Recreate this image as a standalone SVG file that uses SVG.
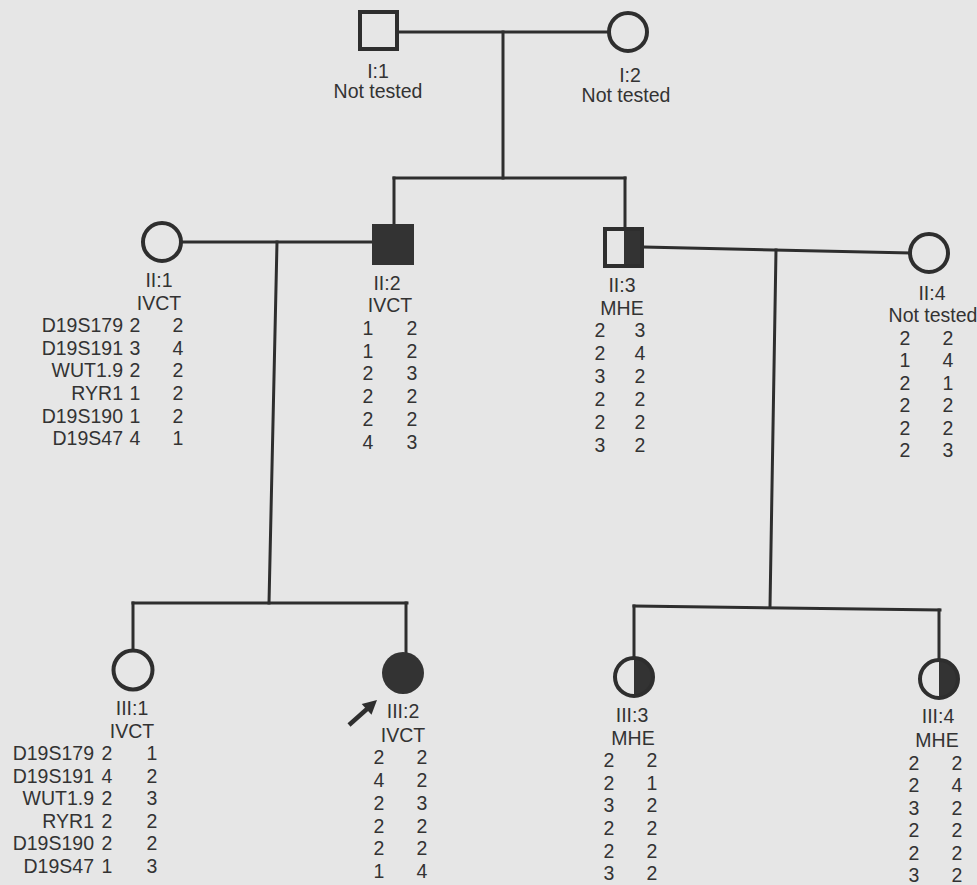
<svg xmlns="http://www.w3.org/2000/svg" width="977" height="885" viewBox="0 0 977 885">
<defs>
<style>
.ln{stroke:#2e2e2e;stroke-width:3;fill:none;stroke-linecap:square}
.sym{stroke:#2e2e2e;stroke-width:4;fill:none}
text{font-family:"Liberation Sans",Arial,sans-serif;font-size:19.5px;fill:#333}
.m{text-anchor:middle}
.e{text-anchor:end}
</style>
</defs>
<rect width="977" height="885" fill="#e6e6e6"/>
<g id="connectors">
<line class="ln" x1="398" y1="32" x2="609" y2="32"/>
<line class="ln" x1="503" y1="32" x2="503" y2="178"/>
<line class="ln" x1="394" y1="178" x2="625" y2="178"/>
<line class="ln" x1="394" y1="178" x2="394" y2="224"/>
<line class="ln" x1="625" y1="178" x2="625" y2="227"/>
<line class="ln" x1="181" y1="242" x2="372" y2="242"/>
<line class="ln" x1="277" y1="242" x2="269" y2="603"/>
<line class="ln" x1="133" y1="603" x2="407" y2="603"/>
<line class="ln" x1="133" y1="603" x2="133" y2="650"/>
<line class="ln" x1="406" y1="603" x2="406" y2="653"/>
<line class="ln" x1="644" y1="247" x2="910" y2="253"/>
<line class="ln" x1="776" y1="250" x2="770" y2="607"/>
<line class="ln" x1="634" y1="606" x2="940" y2="610"/>
<line class="ln" x1="634" y1="606" x2="634" y2="657"/>
<line class="ln" x1="939" y1="610" x2="939" y2="659"/>
</g>
<g id="I1">
<rect class="sym" x="360" y="12" width="37" height="37"/>
<text class="m" x="378" y="78">I:1</text>
<text class="m" x="378" y="98">Not tested</text>
</g>
<g id="I2">
<circle class="sym" cx="628" cy="32" r="19"/>
<text class="m" x="630" y="82">I:2</text>
<text class="m" x="626" y="102">Not tested</text>
</g>
<g id="II1">
<circle class="sym" cx="162" cy="242" r="19"/>
<text class="m" x="159" y="287">II:1</text>
<text class="m" x="159" y="310">IVCT</text>
<text class="e" x="123" y="332">D19S179</text><text class="m" x="135" y="332">2</text><text class="m" x="178" y="332">2</text>
<text class="e" x="123" y="355">D19S191</text><text class="m" x="135" y="355">3</text><text class="m" x="178" y="355">4</text>
<text class="e" x="123" y="377">WUT1.9</text><text class="m" x="135" y="377">2</text><text class="m" x="178" y="377">2</text>
<text class="e" x="123" y="400">RYR1</text><text class="m" x="135" y="400">1</text><text class="m" x="178" y="400">2</text>
<text class="e" x="123" y="423">D19S190</text><text class="m" x="135" y="423">1</text><text class="m" x="178" y="423">2</text>
<text class="e" x="123" y="445">D19S47</text><text class="m" x="135" y="445">4</text><text class="m" x="178" y="445">1</text>
</g>
<g id="II2">
<rect x="372" y="224" width="42" height="41" fill="#333"/>
<text class="m" x="387" y="290">II:2</text>
<text class="m" x="390" y="312">IVCT</text>
<text class="m" x="368" y="335">1</text><text class="m" x="412" y="335">2</text>
<text class="m" x="368" y="358">1</text><text class="m" x="412" y="358">2</text>
<text class="m" x="368" y="380">2</text><text class="m" x="412" y="380">3</text>
<text class="m" x="368" y="403">2</text><text class="m" x="412" y="403">2</text>
<text class="m" x="368" y="426">2</text><text class="m" x="412" y="426">2</text>
<text class="m" x="368" y="449">4</text><text class="m" x="412" y="449">3</text>
</g>
<g id="II3">
<rect x="624" y="227" width="20" height="41" fill="#333"/>
<rect class="sym" x="605" y="229" width="37" height="37"/>
<text class="m" x="622" y="292">II:3</text>
<text class="m" x="622" y="315">MHE</text>
<text class="m" x="600" y="337">2</text><text class="m" x="640" y="337">3</text>
<text class="m" x="600" y="360">2</text><text class="m" x="640" y="360">4</text>
<text class="m" x="600" y="383">3</text><text class="m" x="640" y="383">2</text>
<text class="m" x="600" y="406">2</text><text class="m" x="640" y="406">2</text>
<text class="m" x="600" y="429">2</text><text class="m" x="640" y="429">2</text>
<text class="m" x="600" y="452">3</text><text class="m" x="640" y="452">2</text>
</g>
<g id="II4">
<circle class="sym" cx="929" cy="253" r="19"/>
<text class="m" x="932" y="300">II:4</text>
<text class="m" x="933" y="322">Not tested</text>
<text class="m" x="905" y="345">2</text><text class="m" x="948" y="345">2</text>
<text class="m" x="905" y="367">1</text><text class="m" x="948" y="367">4</text>
<text class="m" x="905" y="390">2</text><text class="m" x="948" y="390">1</text>
<text class="m" x="905" y="412">2</text><text class="m" x="948" y="412">2</text>
<text class="m" x="905" y="435">2</text><text class="m" x="948" y="435">2</text>
<text class="m" x="905" y="457">2</text><text class="m" x="948" y="457">3</text>
</g>
<g id="III1">
<circle class="sym" cx="133" cy="670" r="19.5"/>
<text class="m" x="132" y="715">III:1</text>
<text class="m" x="132" y="738">IVCT</text>
<text class="e" x="94" y="760">D19S179</text><text class="m" x="107" y="760">2</text><text class="m" x="152" y="760">1</text>
<text class="e" x="94" y="783">D19S191</text><text class="m" x="107" y="783">4</text><text class="m" x="152" y="783">2</text>
<text class="e" x="94" y="805">WUT1.9</text><text class="m" x="107" y="805">2</text><text class="m" x="152" y="805">3</text>
<text class="e" x="94" y="828">RYR1</text><text class="m" x="107" y="828">2</text><text class="m" x="152" y="828">2</text>
<text class="e" x="94" y="850">D19S190</text><text class="m" x="107" y="850">2</text><text class="m" x="152" y="850">2</text>
<text class="e" x="94" y="873">D19S47</text><text class="m" x="107" y="873">1</text><text class="m" x="152" y="873">3</text>
</g>
<g id="III2">
<circle cx="403" cy="673" r="21" fill="#333"/>
<line x1="349" y1="725" x2="367" y2="709" stroke="#2e2e2e" stroke-width="4.5"/>
<path d="M377,700 L371.5,714.8 L361.7,703.9 Z" fill="#2e2e2e"/>
<text class="m" x="403" y="718">III:2</text>
<text class="m" x="403" y="742">IVCT</text>
<text class="m" x="379" y="764">2</text><text class="m" x="422" y="764">2</text>
<text class="m" x="379" y="787">4</text><text class="m" x="422" y="787">2</text>
<text class="m" x="379" y="810">2</text><text class="m" x="422" y="810">3</text>
<text class="m" x="379" y="833">2</text><text class="m" x="422" y="833">2</text>
<text class="m" x="379" y="855">2</text><text class="m" x="422" y="855">2</text>
<text class="m" x="379" y="878">1</text><text class="m" x="422" y="878">4</text>
</g>
<g id="III3">
<path d="M634,657 A20,20 0 0 1 634,697 Z" fill="#333"/>
<circle class="sym" cx="634" cy="677" r="19"/>
<text class="m" x="632" y="722">III:3</text>
<text class="m" x="633" y="745">MHE</text>
<text class="m" x="609" y="767">2</text><text class="m" x="652" y="767">2</text>
<text class="m" x="609" y="790">2</text><text class="m" x="652" y="790">1</text>
<text class="m" x="609" y="812">3</text><text class="m" x="652" y="812">2</text>
<text class="m" x="609" y="835">2</text><text class="m" x="652" y="835">2</text>
<text class="m" x="609" y="858">2</text><text class="m" x="652" y="858">2</text>
<text class="m" x="609" y="880">3</text><text class="m" x="652" y="880">2</text>
</g>
<g id="III4">
<path d="M939,659 A20,20 0 0 1 939,699 Z" fill="#333"/>
<circle class="sym" cx="939" cy="679" r="19"/>
<text class="m" x="938" y="723">III:4</text>
<text class="m" x="937" y="747">MHE</text>
<text class="m" x="914" y="770">2</text><text class="m" x="957" y="770">2</text>
<text class="m" x="914" y="792">2</text><text class="m" x="957" y="792">4</text>
<text class="m" x="914" y="815">3</text><text class="m" x="957" y="815">2</text>
<text class="m" x="914" y="837">2</text><text class="m" x="957" y="837">2</text>
<text class="m" x="914" y="860">2</text><text class="m" x="957" y="860">2</text>
<text class="m" x="914" y="882">3</text><text class="m" x="957" y="882">2</text>
</g>
</svg>
